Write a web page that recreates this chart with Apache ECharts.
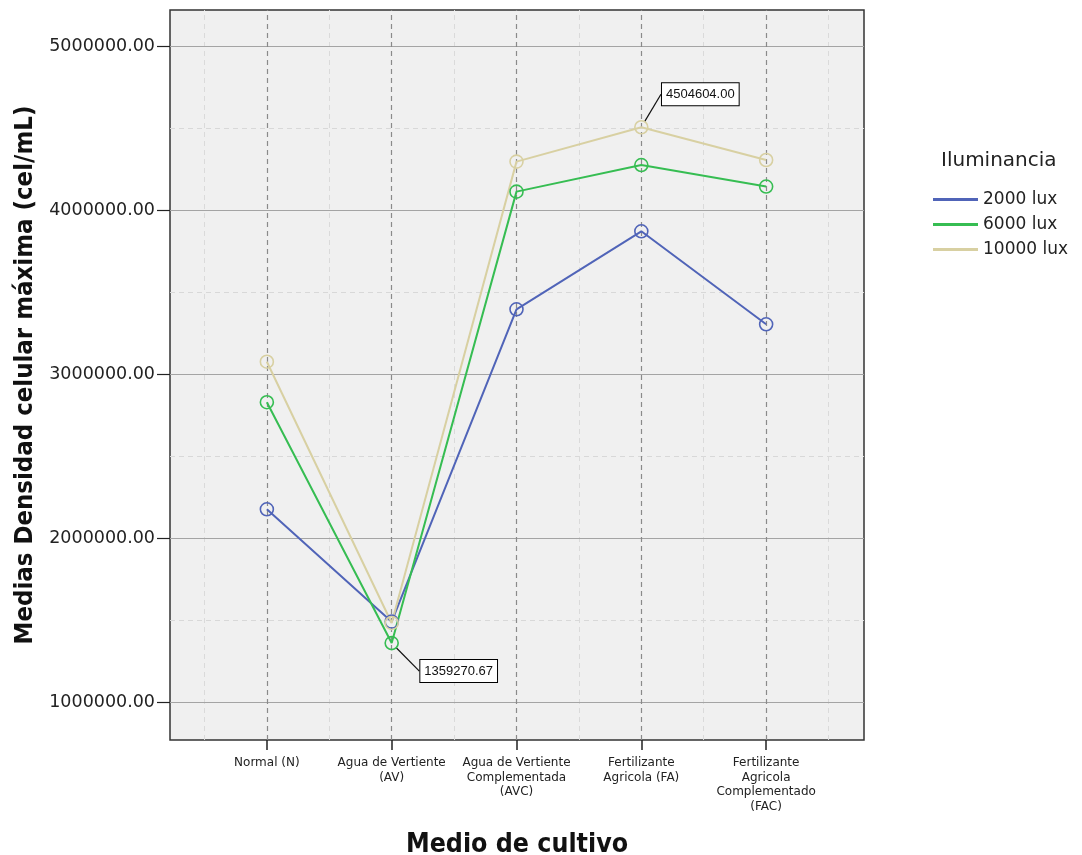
<!DOCTYPE html>
<html>
<head>
<meta charset="utf-8">
<script src="https://cdn.jsdelivr.net/npm/echarts@6/dist/echarts.min.js"></script>
<style>
  html, body { margin: 0; padding: 0; background: #ffffff; }
  #chart { width: 1082px; height: 855px; }
</style>
</head>
<body>
<div id="chart"></div>
<script>
// Culture media (x categories)
const categories = [
  'Normal (N)',
  'Agua de Vertiente\n(AV)',
  'Agua de Vertiente\nComplementada\n(AVC)',
  'Fertilizante\nAgricola (FA)',
  'Fertilizante\nAgricola\nComplementado\n(FAC)'
];

// Mean maximum cell density per illuminance level
const lux2000 = [2175000, 1490000, 3394500, 3870000, 3303000];
const lux6000 = [2828000, 1359270.67, 4112000, 4274000, 4143000];
const lux10000 = [3075000, 1482000, 4295000, 4504604.00, 4305000];

const seriesNames = ['2000 lux', '6000 lux', '10000 lux'];

// Axis ticks
const yTicks = [1000000, 2000000, 3000000, 4000000, 5000000];
const yMinorTicks = [1500000, 2500000, 3500000, 4500000];
const xTicks = [0, 1, 2, 3, 4];
const xMinorTicks = [-0.5, 0.5, 1.5, 2.5, 3.5, 4.5];

const colors = ['#5064B8', '#36BD52', '#D8D0A2'];

function pts(values) {
  return values.map((v, i) => [i, v]);
}

function withLabel(values, idx) {
  return values.map((v, i) => {
    if (i !== idx) return [i, v];
    return {
      value: [i, v],
      label: {
        show: true,
        position: 'inside',
        formatter: (p) => p.value[1].toFixed(2),
        backgroundColor: '#ffffff',
        borderColor: '#000000',
        borderWidth: 1,
        padding: [5, 4, 4, 4],
        color: '#111',
        fontFamily: 'Liberation Sans, Arial, sans-serif',
        fontSize: 13
      },
      labelLine: { show: true, lineStyle: { color: '#111', width: 1.2 } }
    };
  });
}

function lineSeries(name, data, color, layout) {
  return {
    name: name,
    type: 'line',
    data: data,
    z: 5,
    symbol: 'circle',
    symbolSize: 13,
    lineStyle: { color: color, width: 2 },
    itemStyle: { color: 'rgba(0,0,0,0)', borderColor: color, borderWidth: 1.6 },
    emphasis: { disabled: true },
    labelLayout: layout
  };
}

const chart = echarts.init(document.getElementById('chart'), null, { renderer: 'canvas' });

const option = {
  animation: false,
  backgroundColor: '#ffffff',
  title: {
    text: 'Iluminancia',
    left: 936,
    top: 146,
    textStyle: { fontFamily: 'DejaVu Sans, sans-serif', fontSize: 20, fontWeight: 'normal', color: '#222' }
  },
  legend: {
    orient: 'vertical',
    left: 928,
    top: 186,
    itemWidth: 45,
    itemHeight: 3,
    itemGap: 8,
    textStyle: { fontFamily: 'DejaVu Sans, sans-serif', fontSize: 17, color: '#222' },
    data: seriesNames.map((n, i) => ({ name: n, icon: 'rect', itemStyle: { color: colors[i], borderWidth: 0 } }))
  },
  grid: {
    left: 170, right: 218, top: 10, bottom: 115,
    outerBoundsMode: 'none',
    containLabel: false,
    show: true,
    backgroundColor: '#F0F0F0',
    borderColor: '#333333',
    borderWidth: 1.5
  },
  xAxis: {
    type: 'value',
    min: -0.776,
    max: 4.784,
    name: 'Medio de cultivo',
    nameLocation: 'middle',
    nameGap: 92,
    nameTextStyle: { fontFamily: 'Liberation Sans Narrow, DejaVu Sans Condensed, sans-serif', fontWeight: 'bold', fontSize: 26.5, color: '#111' },
    axisLine: { show: false, onZero: false },
    splitLine: { show: false },
    axisTick: { show: true, customValues: xTicks, length: 10, lineStyle: { color: '#222', width: 1.5 } },
    axisLabel: {
      customValues: xTicks,
      formatter: (v) => categories[Math.round(v)],
      fontFamily: 'DejaVu Sans, sans-serif',
      fontSize: 12,
      lineHeight: 14.5,
      color: '#222',
      margin: 16
    }
  },
  yAxis: {
    type: 'value',
    min: 768293,
    max: 5219512,
    name: 'Medias Densidad celular máxima (cel/mL)',
    nameLocation: 'middle',
    nameRotate: 90,
    nameGap: 128,
    nameTextStyle: { fontFamily: 'Liberation Sans Narrow, DejaVu Sans Condensed, sans-serif', fontWeight: 'bold', fontSize: 25.5, color: '#111' },
    axisLine: { show: false, onZero: false },
    splitLine: { show: false },
    axisTick: { show: true, customValues: yTicks, length: 13, lineStyle: { color: '#222', width: 1.2 } },
    axisLabel: {
      customValues: yTicks,
      formatter: (v) => v.toFixed(2),
      fontFamily: 'DejaVu Sans, sans-serif',
      fontSize: 17.5,
      color: '#222',
      margin: 15
    }
  },
  series: [
    {
      // grid lines
      name: 'grid',
      type: 'line',
      data: [],
      z: 1,
      silent: true,
      markLine: {
        silent: true,
        symbol: 'none',
        label: { show: false },
        animation: false,
        data: [
          ...yMinorTicks.map((v) => ({ yAxis: v, lineStyle: { color: '#D8D8D8', type: [5, 4], width: 1 } })),
          ...xMinorTicks.map((v) => ({ xAxis: v, lineStyle: { color: '#DADADA', type: [5, 4], width: 1 } })),
          ...yTicks.map((v) => ({ yAxis: v, lineStyle: { color: '#A4A4A4', type: 'solid', width: 1.2 } })),
          ...xTicks.map((v) => ({ xAxis: v, lineStyle: { color: '#8A8A8A', type: [5, 4], width: 1.2 } }))
        ]
      }
    },
    lineSeries(seriesNames[0], pts(lux2000), colors[0]),
    lineSeries(seriesNames[1], withLabel(lux6000, 1), colors[1], { dx: 67, dy: 28 }),
    lineSeries(seriesNames[2], withLabel(lux10000, 3), colors[2], { dx: 59, dy: -33 })
  ]
};

chart.setOption(option);
</script>
</body>
</html>
